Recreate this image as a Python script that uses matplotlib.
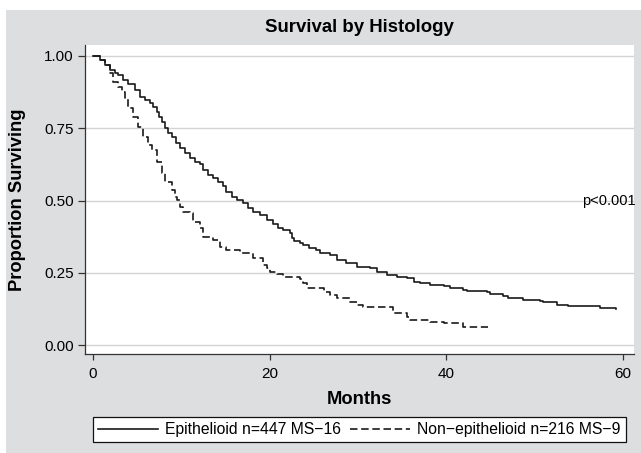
"""Kaplan-Meier style survival curves by histology."""

import matplotlib
matplotlib.use("Agg")
from matplotlib import pyplot as plt
from matplotlib.patches import Rectangle

plt.rcParams['font.family'] = ['Liberation Sans', 'DejaVu Sans']

# Epithelioid (n=447) survival estimates: months, proportion surviving
epi_months = [0, 0.79, 1.36, 1.92, 2.49, 2.87, 3.43, 4.0, 4.75, 5.32, 5.9, 6.45,
              6.83, 7.2, 7.47, 7.77, 8.15, 8.53, 8.98, 9.36, 9.85, 10.4, 10.98,
              11.5, 12.1, 12.5, 13.05, 13.6, 14.2, 14.75, 15.1, 15.7, 16.3, 17.0,
              17.6, 18.15, 18.9, 19.7, 20.4, 21.0, 21.5, 22.3, 22.5, 22.7, 23.4,
              23.8, 24.4, 25.3, 25.7, 26.8, 27.6, 28.7, 29.85, 31.4, 32.1, 33.25,
              34.4, 35.5, 36.3, 37.0, 38.15, 39.7, 40.4, 41.9, 42.3, 44.6, 44.9,
              46.45, 47.0, 48.7, 50.6, 51.0, 52.5, 53.8, 55.9, 57.4, 59.2]
epi_surv = [1.0, 0.986, 0.969, 0.952, 0.942, 0.934, 0.917, 0.902, 0.882, 0.859,
            0.848, 0.836, 0.825, 0.807, 0.79, 0.773, 0.75, 0.732, 0.719, 0.698,
            0.681, 0.663, 0.646, 0.634, 0.625, 0.606, 0.588, 0.577, 0.565, 0.551,
            0.53, 0.513, 0.502, 0.49, 0.473, 0.461, 0.45, 0.433, 0.418, 0.405,
            0.398, 0.386, 0.369, 0.36, 0.352, 0.346, 0.335, 0.329, 0.317, 0.311,
            0.294, 0.283, 0.271, 0.265, 0.254, 0.242, 0.236, 0.231, 0.219, 0.213,
            0.208, 0.204, 0.196, 0.192, 0.186, 0.184, 0.176, 0.17, 0.162, 0.156,
            0.152, 0.148, 0.138, 0.136, 0.135, 0.129, 0.125]

# Non-epithelioid (n=216)
non_months = [0, 0.79, 1.36, 1.92, 2.3, 2.87, 3.25, 3.62, 4.0, 4.56, 5.13, 5.7,
              6.26, 6.64, 7.2, 7.77, 8.15, 8.9, 9.28, 9.47, 9.85, 10.2, 10.98,
              11.35, 12.1, 12.5, 13.6, 14.4, 15.1, 16.6, 18.15, 19.3, 19.7, 20.0,
              20.8, 21.5, 23.4, 23.8, 24.2, 26.1, 26.8, 27.6, 29.1, 29.85, 30.6,
              34.0, 35.5, 35.9, 38.15, 39.7, 41.9, 44.7]
non_surv = [1.0, 0.986, 0.969, 0.94, 0.911, 0.894, 0.877, 0.854, 0.819, 0.79,
            0.755, 0.721, 0.692, 0.675, 0.634, 0.594, 0.565, 0.536, 0.513, 0.502,
            0.479, 0.461, 0.456, 0.427, 0.404, 0.375, 0.363, 0.34, 0.329, 0.317,
            0.3, 0.277, 0.265, 0.254, 0.245, 0.236, 0.227, 0.213, 0.196, 0.184,
            0.173, 0.162, 0.15, 0.138, 0.131, 0.11, 0.098, 0.087, 0.081, 0.075,
            0.063, 0.063]

labels = ["Epithelioid n=447 MS\u221216", "Non\u2212epithelioid n=216 MS\u22129"]
x_ticks = [0, 20, 40, 60]
y_ticks = [0.00, 0.25, 0.50, 0.75, 1.00]
p_text = "p<0.001"

fig = plt.figure(figsize=(6.41, 4.53), dpi=100)
fig.patch.set_facecolor("white")
# grey graph region behind the plot
fig.patches.append(Rectangle((6 / 641, 0), 1, 1 - 10 / 453, transform=fig.transFigure,
                             facecolor="#dddee0", edgecolor="none", zorder=-10))

ax = fig.add_axes([85 / 641, 99 / 453, 549 / 641, 309 / 453])
ax.set_facecolor("white")

ax.step(epi_months, epi_surv, where="post", color="#1a1a1a", lw=1.2,
        label=labels[0])
ax.step(non_months, non_surv, where="post", color="#1a1a1a", lw=1.2,
        dashes=(4.5, 2.2), label=labels[1])

ax.set_xlim(-0.906, 61.25)
ax.set_ylim(-0.031, 1.038)
ax.set_xticks(x_ticks)
ax.set_yticks(y_ticks)
ax.set_yticklabels([f"{v:.2f}" for v in y_ticks])
ax.yaxis.grid(True, color="#d4d4d4", lw=1)
ax.set_axisbelow(True)

for side in ("top", "right"):
    ax.spines[side].set_visible(False)
for side in ("left", "bottom"):
    ax.spines[side].set_color("#333333")
    ax.spines[side].set_linewidth(0.9)
ax.tick_params(axis="y", length=5, width=0.9, color="#333333", labelsize=11, pad=3)
ax.tick_params(axis="x", length=4, width=0.9, color="#333333", labelsize=11, pad=5)

ax.text(55.35, 0.5, p_text, fontsize=10.5, va="center", ha="left")

ax.set_title("Survival by Histology", fontsize=13.4, fontweight="bold",
             y=(354 - 27) / 309, va="center", pad=0)
ax.set_ylabel("Proportion Surviving", fontsize=13.2, fontweight="bold", va="center")
ax.yaxis.set_label_coords((18 - 85) / 549, 0.5)
ax.set_xlabel("Months", fontsize=13.2, fontweight="bold", va="center")
ax.xaxis.set_label_coords(0.5, (354 - 400) / 309)

leg = fig.legend(loc="center", bbox_to_anchor=(359.5 / 641, 1 - 429.5 / 453),
                 ncol=2, fontsize=11.3, frameon=True, fancybox=False,
                 handlelength=3.8, handletextpad=0.45, columnspacing=0.6,
                 borderpad=0.35, borderaxespad=0)
leg.get_frame().set_edgecolor("#111111")
leg.get_frame().set_linewidth(0.9)
leg.get_frame().set_facecolor("white")
leg.get_frame().set_alpha(1)

fig.savefig("out.png", dpi=100)
